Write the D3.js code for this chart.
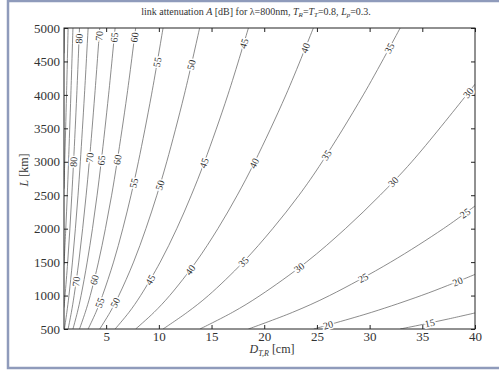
<!DOCTYPE html>
<meta charset="utf-8">
<style>
body { margin: 0; background: #fff; }
svg { display: block; font-family: "Liberation Serif", "Times New Roman", serif; }
.tick text { fill: #333; font-family: "Liberation Serif", "Times New Roman", serif; }
.tick line { stroke: #222; }
.contour { fill: none; stroke: #666; stroke-width: 0.75px; }
.clabel {
  font-size: 10px;
  fill: #333;
  stroke: #fff;
  stroke-width: 3px;
  paint-order: stroke;
  text-anchor: middle;
  dominant-baseline: central;
}
</style>
<svg width="499" height="372"></svg>
<script src="https://cdn.jsdelivr.net/npm/d3@7/dist/d3.min.js"></script>
<script>

// contour levels, A [dB]
var levels = [15, 20, 25, 30, 35, 40, 45, 50, 55, 60, 65, 70, 75, 80, 85, 90, 95];

// points: [D (cm), L (km)]
var c15 = [[32.9, 500], [35.0, 567], [37.5, 651], [40, 740]];
var c20 = [[24.7, 500], [30.2, 750], [34.9, 1000], [37.4, 1150], [40, 1316]];
var c25 = [[18.5, 500], [22.7, 750], [26.2, 1000], [32.0, 1500], [37.0, 2000], [40, 2339]];
var c30 = [[13.9, 500], [17.0, 750], [19.6, 1000], [24.0, 1500], [27.7, 2000], [31.0, 2500], [34.0, 3000], [39.2, 4000], [40, 4160]];
var c35 = [[10.4, 500], [12.7, 750], [14.7, 1000], [18.0, 1500], [20.8, 2000], [23.3, 2500], [25.5, 3000], [29.4, 4000], [32.9, 5000]];
var c40 = [[7.80, 500], [9.55, 750], [11.03, 1000], [13.51, 1500], [15.60, 2000], [17.44, 2500], [19.10, 3000], [22.06, 4000], [24.66, 5000]];
var c45 = [[5.85, 500], [7.17, 750], [8.27, 1000], [10.13, 1500], [11.70, 2000], [13.08, 2500], [14.33, 3000], [16.55, 4000], [18.50, 5000]];
var c50 = [[4.39, 500], [5.37, 750], [6.20, 1000], [7.60, 1500], [8.77, 2000], [9.81, 2500], [10.75, 3000], [12.41, 4000], [13.87, 5000]];
var c55 = [[3.29, 500], [4.03, 750], [4.65, 1000], [5.70, 1500], [6.58, 2000], [7.36, 2500], [8.06, 3000], [9.30, 4000], [10.40, 5000]];
var c60 = [[2.47, 500], [3.02, 750], [3.49, 1000], [4.27, 1500], [4.93, 2000], [5.52, 2500], [6.04, 3000], [6.98, 4000], [7.80, 5000]];
var c65 = [[1.85, 500], [2.27, 750], [2.62, 1000], [3.20, 1500], [3.70, 2000], [4.14, 2500], [4.53, 3000], [5.23, 4000], [5.85, 5000]];
var c70 = [[1.39, 500], [1.70, 750], [1.96, 1000], [2.40, 1500], [2.77, 2000], [3.10, 2500], [3.40, 3000], [3.92, 4000], [4.39, 5000]];
var c75 = [[1.04, 500], [1.27, 750], [1.47, 1000], [1.80, 1500], [2.08, 2000], [2.33, 2500], [2.55, 3000], [2.94, 4000], [3.29, 5000]];
var c80 = [[1.00, 821], [1.10, 1000], [1.35, 1500], [1.56, 2000], [1.74, 2500], [1.91, 3000], [2.21, 4000], [2.47, 5000]];
var c85 = [[1.00, 1461], [1.17, 2000], [1.31, 2500], [1.43, 3000], [1.65, 4000], [1.85, 5000]];
var c90 = [[1.00, 2598], [1.07, 3000], [1.24, 4000], [1.39, 5000]];
var c95 = [[1.00, 4622], [1.04, 5000]];

// inline labels: level and the L (km) where the label sits
var labelLevel = [80, 70, 65, 60, 55, 50, 45, 40, 35, 30,
                  80, 70, 65, 60, 55, 50, 45, 40, 35, 30, 25,
                  70, 60, 55, 50, 45, 40, 35, 30, 25, 20, 20, 15];
var labelL = [4840, 4880, 4860, 4860, 4490, 4450, 4770, 4700, 4700, 4030,
              3000, 3060, 3020, 3030, 2680, 2650, 2980, 2980, 3100, 2700, 2230,
              1210, 1235, 893, 893, 1235, 1385, 1505, 1415, 1265, 560, 1210, 590];

var xTicks = [5, 10, 15, 20, 25, 30, 35, 40];
var yTicks = [500, 1000, 1500, 2000, 2500, 3000, 3500, 4000, 4500, 5000];

var contourPts = [c15, c20, c25, c30, c35, c40, c45, c50, c55, c60, c65, c70, c75, c80, c85, c90, c95];

var svg = d3.select("svg"),
    pLeft = 64, pRight = 475, pTop = 28, pBottom = 329,
    serif = "'Liberation Serif', 'Times New Roman', serif";

var x = d3.scaleLinear().domain([1, 40]).range([pLeft, pRight]);
var y = d3.scaleLinear().domain([500, 5000]).range([pBottom, pTop]);

// outer frame of the figure
svg.append("rect")
    .attr("x", 8).attr("y", 1)
    .attr("width", 500).attr("height", 367)
    .attr("fill", "none")
    .attr("stroke", "#8f9bbb")
    .attr("stroke-width", 2.5);

svg.append("clipPath").attr("id", "plot")
  .append("rect")
    .attr("x", pLeft).attr("y", pTop)
    .attr("width", pRight - pLeft).attr("height", pBottom - pTop);

var line = d3.line()
    .x(function(d) { return x(d[0]); })
    .y(function(d) { return y(d[1]); })
    .curve(d3.curveCatmullRom.alpha(0.5));

var paths = svg.append("g")
    .attr("clip-path", "url(#plot)")
  .selectAll("path")
    .data(contourPts)
  .enter().append("path")
    .attr("class", "contour")
    .attr("d", line);

// axes, ticks pointing inward on all four sides
function clean(g) {
  g.attr("font-family", serif).attr("font-size", 13);
  g.select(".domain").remove();
}
svg.append("g")
    .attr("transform", "translate(0," + pBottom + ")")
    .call(d3.axisBottom(x).tickValues(xTicks).tickSizeInner(-4).tickSizeOuter(0).tickPadding(3))
    .call(clean);
svg.append("g")
    .attr("transform", "translate(0," + pTop + ")")
    .call(d3.axisTop(x).tickValues(xTicks).tickSizeInner(-4).tickSizeOuter(0).tickFormat(""))
    .call(clean);
svg.append("g")
    .attr("transform", "translate(" + pLeft + ",0)")
    .call(d3.axisLeft(y).tickValues(yTicks).tickSizeInner(-4).tickSizeOuter(0).tickPadding(4).tickFormat(d3.format("d")))
    .call(clean);
svg.append("g")
    .attr("transform", "translate(" + pRight + ",0)")
    .call(d3.axisRight(y).tickValues(yTicks).tickSizeInner(-4).tickSizeOuter(0).tickFormat(""))
    .call(clean);

svg.append("rect")
    .attr("x", pLeft).attr("y", pTop)
    .attr("width", pRight - pLeft).attr("height", pBottom - pTop)
    .attr("fill", "none")
    .attr("stroke", "#222")
    .attr("stroke-width", 1);

// contour labels, placed on the drawn curve and turned along it
var pathNodes = paths.nodes();
labelLevel.forEach(function(lv, i) {
  var node = pathNodes[levels.indexOf(lv)],
      total = node.getTotalLength(),
      target = y(labelL[i]),
      lo = 0, hi = total;
  for (var k = 0; k < 30; k++) {
    var mid = (lo + hi) / 2;
    if (node.getPointAtLength(mid).y > target) lo = mid; else hi = mid;
  }
  var s = (lo + hi) / 2,
      p = node.getPointAtLength(s),
      p1 = node.getPointAtLength(Math.max(0, s - 4)),
      p2 = node.getPointAtLength(Math.min(total, s + 4)),
      ang = Math.atan2(p2.y - p1.y, p2.x - p1.x) * 180 / Math.PI;
  svg.append("text")
      .attr("class", "clabel")
      .attr("transform", "translate(" + p.x + "," + p.y + ") rotate(" + ang + ")")
      .text(lv);
});

// title
var title = svg.append("text")
    .attr("x", 256).attr("y", 15)
    .attr("text-anchor", "middle")
    .attr("font-size", "10px")
    .attr("fill", "#333");
title.append("tspan").text("link attenuation ");
title.append("tspan").attr("font-style", "italic").text("A");
title.append("tspan").text(" [dB] for \u03bb=800nm, ");
title.append("tspan").attr("font-style", "italic").text("T");
title.append("tspan").attr("font-style", "italic").attr("font-size", "7px").attr("dy", 2).text("R");
title.append("tspan").attr("dy", -2).text("=");
title.append("tspan").attr("font-style", "italic").text("T");
title.append("tspan").attr("font-style", "italic").attr("font-size", "7px").attr("dy", 2).text("T");
title.append("tspan").attr("dy", -2).text("=0.8, ");
title.append("tspan").attr("font-style", "italic").text("L");
title.append("tspan").attr("font-style", "italic").attr("font-size", "7px").attr("dy", 2).text("p");
title.append("tspan").attr("dy", -2).text("=0.3.");

// axis titles
var xl = svg.append("text")
    .attr("x", 272).attr("y", 353)
    .attr("text-anchor", "middle")
    .attr("font-size", "12px")
    .attr("fill", "#333");
xl.append("tspan").attr("font-style", "italic").text("D");
xl.append("tspan").attr("font-style", "italic").attr("font-size", "8px").attr("dy", 3).text("T,R");
xl.append("tspan").attr("dy", -3).text(" [cm]");

var yl = svg.append("text")
    .attr("transform", "translate(28,170) rotate(-90)")
    .attr("text-anchor", "middle")
    .attr("font-size", "12px")
    .attr("fill", "#333");
yl.append("tspan").attr("font-style", "italic").text("L");
yl.append("tspan").text(" [km]");

</script>
